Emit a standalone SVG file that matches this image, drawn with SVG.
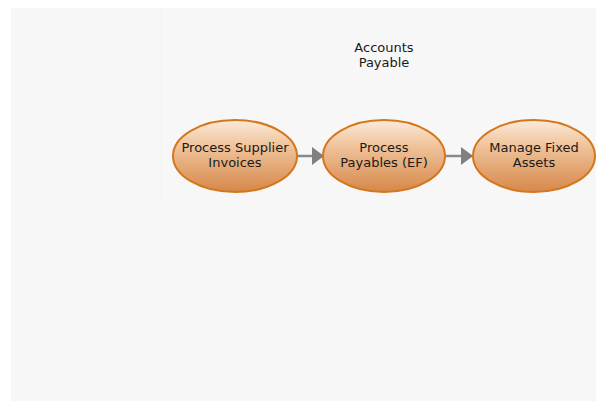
<svg xmlns="http://www.w3.org/2000/svg" width="596" height="401" viewBox="0 0 596 401">
<defs>
<linearGradient id="g" x1="0" y1="0" x2="0" y2="1">
<stop offset="0" stop-color="#fbeadb"/>
<stop offset="0.35" stop-color="#f0c49c"/>
<stop offset="1" stop-color="#d6884a"/>
</linearGradient>
<marker id="ah" markerWidth="12" markerHeight="18" refX="11" refY="9" orient="auto" markerUnits="userSpaceOnUse">
<path d="M0,0 L12,9 L0,18 Z" fill="#808080"/>
</marker>
</defs>
<style>
.n{fill:url(#g);stroke:#d4771c;stroke-width:2}
.t{font-family:"DejaVu Sans",Verdana,sans-serif;font-size:13px;fill:#1a1a1a;text-anchor:middle}
.c{stroke:#8a8a8a;stroke-width:2.5;fill:none}
</style>
<rect width="596" height="401" fill="#ffffff"/>
<rect x="11" y="8" width="585" height="393" fill="#f7f7f7"/>
<line x1="161" y1="8" x2="161" y2="200" stroke="#f1f1f1" stroke-width="1"/>
<g id="title"><text class="t" x="384" y="52">Accounts</text><text class="t" x="384" y="67">Payable</text></g>
<g id="connectors">
<line class="c" x1="297" y1="156" x2="323" y2="156" marker-end="url(#ah)"/>
<line class="c" x1="446" y1="156" x2="472" y2="156" marker-end="url(#ah)"/>
</g>
<g id="n1"><ellipse class="n" cx="235" cy="156" rx="62" ry="36"/><text class="t" x="235" y="152">Process Supplier</text><text class="t" x="235" y="167">Invoices</text></g>
<g id="n2"><ellipse class="n" cx="384" cy="156" rx="61" ry="36"/><text class="t" x="384" y="152">Process</text><text class="t" x="384" y="167">Payables (EF)</text></g>
<g id="n3"><ellipse class="n" cx="534" cy="156" rx="61" ry="36"/><text class="t" x="534" y="152">Manage Fixed</text><text class="t" x="534" y="167">Assets</text></g>
</svg>
